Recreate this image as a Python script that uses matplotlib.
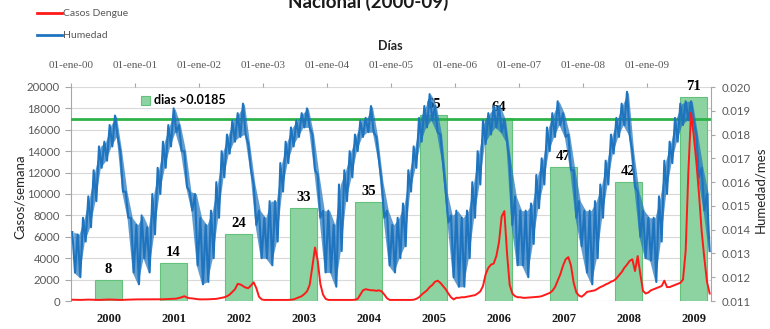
import matplotlib
matplotlib.use('Agg')
import matplotlib.pyplot as plt
import numpy as np
from matplotlib.lines import Line2D

# ---------------- data ----------------
years = ['2000', '2001', '2002', '2003', '2004', '2005', '2006', '2007', '2008', '2009']
dias_count = [8, 14, 24, 33, 35, 65, 64, 47, 42, 71]
bar_heights = [1960, 3580, 6260, 8700, 9250, 17400, 17100, 12500, 11150, 19050]
top_labels = ['01-ene-00', '01-ene-01', '01-ene-02', '01-ene-03', '01-ene-04',
              '01-ene-05', '01-ene-06', '01-ene-07', '01-ene-08', '01-ene-09']
umbral = 0.01865

# humidity: per month (upper, lower) envelope of the daily band
hum_2000 = [0.0139, 0.0122, 0.0138, 0.0120, 0.0145, 0.0135, 0.0154, 0.0141, 0.0165, 0.0152, 0.0175, 0.0166,
            0.0177, 0.0169, 0.0184, 0.0175, 0.0188, 0.0179, 0.0173, 0.0156, 0.0156, 0.0145, 0.0145, 0.0122]
hum_2001 = [0.0142, 0.0117, 0.0146, 0.0128, 0.0141, 0.0122, 0.0155, 0.0138, 0.0166, 0.0155, 0.0177, 0.0166,
            0.0184, 0.0175, 0.0191, 0.0181, 0.0184, 0.0173, 0.0173, 0.0158, 0.0156, 0.0148, 0.0155, 0.0125]
hum_2002 = [0.0145, 0.0117, 0.0142, 0.0118, 0.0148, 0.0128, 0.0160, 0.0145, 0.0173, 0.0162, 0.0180, 0.0172,
            0.0186, 0.0177, 0.0189, 0.0179, 0.0193, 0.0180, 0.0176, 0.0165, 0.0159, 0.0142, 0.0148, 0.0128]
hum_2003 = [0.0145, 0.0128, 0.0152, 0.0125, 0.0152, 0.0135, 0.0168, 0.0156, 0.0177, 0.0168, 0.0183, 0.0175,
            0.0186, 0.0179, 0.0189, 0.0183, 0.0191, 0.0183, 0.0180, 0.0165, 0.0163, 0.0145, 0.0148, 0.0122]
hum_2004 = [0.0148, 0.0122, 0.0142, 0.0116, 0.0159, 0.0131, 0.0165, 0.0152, 0.0173, 0.0162, 0.0180, 0.0173,
            0.0186, 0.0179, 0.0187, 0.0181, 0.0192, 0.0181, 0.0179, 0.0169, 0.0160, 0.0145, 0.0148, 0.0125]
hum_2005 = [0.0142, 0.0122, 0.0145, 0.0128, 0.0151, 0.0133, 0.0165, 0.0156, 0.0175, 0.0166, 0.0187, 0.0177,
            0.0192, 0.0183, 0.0197, 0.0186, 0.0192, 0.0181, 0.0180, 0.0168, 0.0156, 0.0143, 0.0146, 0.0120]
hum_2006 = [0.0148, 0.0116, 0.0145, 0.0116, 0.0148, 0.0128, 0.0160, 0.0145, 0.0173, 0.0159, 0.0186, 0.0176,
            0.0189, 0.0180, 0.0192, 0.0183, 0.0192, 0.0181, 0.0186, 0.0177, 0.0168, 0.0142, 0.0154, 0.0125]
hum_2007 = [0.0148, 0.0125, 0.0148, 0.0120, 0.0151, 0.0134, 0.0163, 0.0149, 0.0170, 0.0159, 0.0183, 0.0173,
            0.0189, 0.0179, 0.0194, 0.0184, 0.0189, 0.0179, 0.0180, 0.0165, 0.0165, 0.0145, 0.0152, 0.0133]
hum_2008 = [0.0148, 0.0122, 0.0148, 0.0117, 0.0152, 0.0128, 0.0159, 0.0145, 0.0169, 0.0159, 0.0180, 0.0172,
            0.0187, 0.0179, 0.0193, 0.0184, 0.0198, 0.0180, 0.0173, 0.0158, 0.0156, 0.0137, 0.0148, 0.0128]
hum_2009 = [0.0145, 0.0127, 0.0145, 0.0118, 0.0154, 0.0135, 0.0169, 0.0155, 0.0177, 0.0168, 0.0187, 0.0177,
            0.0193, 0.0184, 0.0194, 0.0186, 0.0194, 0.0186, 0.0180, 0.0162, 0.0166, 0.0148, 0.0155, 0.0131]

# dengue cases per week, sampled twice a month
red_2000 = [120, 110, 100, 100, 110, 120, 130, 120, 110, 100, 100, 110,
            120, 130, 140, 130, 120, 110, 100, 110, 120, 130, 140, 150]
red_2001 = [150, 150, 140, 140, 150, 150, 160, 160, 150, 150, 160, 170,
            180, 190, 200, 220, 280, 350, 450, 320, 260, 240, 200, 170]
red_2002 = [150, 150, 160, 160, 170, 180, 200, 250, 300, 350, 450, 600,
            850, 1100, 1600, 1550, 1400, 1250, 1200, 1450, 1750, 1200, 400, 150]
red_2003 = [100, 100, 100, 100, 100, 100, 100, 100, 100, 100, 120, 150,
            250, 350, 450, 650, 900, 1500, 3200, 5000, 3800, 1600, 600, 200]
red_2004 = [100, 100, 100, 100, 100, 100, 100, 100, 100, 100, 120, 200,
            600, 1000, 1100, 1050, 1000, 1000, 950, 1000, 900, 600, 250, 100]
red_2005 = [100, 100, 100, 100, 100, 100, 100, 100, 120, 200, 350, 600,
            800, 1000, 1300, 1500, 1800, 1900, 1700, 1400, 1100, 700, 350, 150]
red_2006 = [300, 300, 350, 350, 400, 450, 500, 550, 700, 900, 1400, 2500,
            3100, 3400, 3500, 4200, 5500, 7900, 8400, 4500, 1500, 700, 450, 350]
red_2007 = [350, 300, 300, 320, 350, 350, 380, 400, 450, 550, 650, 750,
            950, 1300, 1900, 2500, 3300, 3900, 4100, 3300, 1700, 800, 500, 400]
red_2008 = [600, 850, 900, 950, 1000, 1150, 1300, 1400, 1550, 1650, 1800, 1900,
            2100, 2400, 2700, 3100, 3400, 3750, 3900, 2800, 4200, 2500, 950, 700]
red_2009 = [800, 1000, 1100, 1200, 1300, 1400, 1900, 1300, 1300, 1400, 1500, 1600,
            1700, 2000, 4700, 12000, 17600, 15500, 13000, 10000, 6500, 4000, 1800, 700]

hum_years = [hum_2000, hum_2001, hum_2002, hum_2003, hum_2004,
             hum_2005, hum_2006, hum_2007, hum_2008, hum_2009]
red_years = [red_2000, red_2001, red_2002, red_2003, red_2004,
             red_2005, red_2006, red_2007, red_2008, red_2009]

# ---------------- style ----------------
SANS = ['Lato', 'DejaVu Sans']
SERIF = ['Liberation Serif', 'DejaVu Serif']
GRAY = '#595959'
BLUE = '#1E74BE'
RED = '#FF1A1A'
GREEN = '#2DB34A'
BAR_FILL = '#8DD3A1'
BAR_EDGE = '#62C27C'

W, H = 770, 329
fig = plt.figure(figsize=(W / 100, H / 100), dpi=100)
L, R, T, B = 71, 711, 87, 301
ax = fig.add_axes([L / W, 1 - B / H, (R - L) / W, (B - T) / H])

# bars (category axis at the bottom)
xpos = np.arange(len(years))
bars = ax.bar(xpos, bar_heights, width=0.415, color=BAR_FILL, edgecolor=BAR_EDGE,
              linewidth=0.8, zorder=2)
for xi, h, n in zip(xpos, bar_heights, dias_count):
    ax.annotate(str(n), (xi, h), xytext=(0, 3), textcoords='offset points',
                ha='center', va='bottom', fontsize=10.5, fontweight='bold',
                family=SERIF, color='black', zorder=3)
ax.set_xlim(-0.577, 9.269)
ax.set_ylim(0, 20000)
ax.set_yticks(np.arange(0, 20001, 2000))
ax.set_xticks(xpos)
ax.set_xticklabels(years, fontsize=9, fontweight='bold', family=SERIF, color='#1a1a1a')
ax.tick_params(axis='x', length=0, pad=9)
ax.tick_params(axis='y', length=4, width=0.8, color='#A6A6A6', pad=4, labelsize=8.2,
               labelcolor=GRAY)
for lab in ax.get_yticklabels():
    lab.set_family(SANS)
ax.yaxis.grid(True, color='#D9D9D9', linewidth=0.8, zorder=0)
ax.set_axisbelow(True)
for s in ['top', 'bottom', 'right']:
    ax.spines[s].set_visible(False)
ax.spines['left'].set_color('#A6A6A6')

ax.legend([bars], ['dias >0.0185'], loc='upper left',
          bbox_to_anchor=((133 - L) / (R - L), 1.0), frameon=False,
          handlelength=0.75, handleheight=0.75, handletextpad=0.35,
          borderaxespad=0.2, prop={'family': SANS, 'weight': 'bold', 'size': 9})

# time axis on top (Días)
axT = ax.twiny()
axT.set_xlim(0, 10)
axT.set_xticks(np.arange(10))
axT.set_xticklabels(top_labels, fontsize=8, family=SERIF, color=GRAY)
axT.tick_params(axis='x', length=3, width=0.8, color='#A6A6A6', pad=9)
for s in axT.spines.values():
    s.set_visible(False)

# humidity on right axis
axH = axT.twinx()
axH.set_ylim(0.011, 0.020)
ticks_h = np.round(np.arange(0.011, 0.02001, 0.001), 3)
axH.set_yticks(ticks_h)
axH.set_yticklabels(['%.3f' % v for v in ticks_h])
axH.tick_params(axis='y', length=3, width=0.8, color='#A6A6A6', pad=5, labelsize=8.2,
                labelcolor=GRAY)
for lab in axH.get_yticklabels():
    lab.set_family(SANS)
for s in ['top', 'bottom', 'left']:
    axH.spines[s].set_visible(False)
axH.spines['right'].set_color('#A6A6A6')

axH.axhline(umbral, color=GREEN, linewidth=2.0, zorder=1)
hum_all = np.concatenate(hum_years)
hum_hi = hum_all[0::2]
hum_lo = hum_all[1::2]
t_m = np.concatenate([yi + (np.arange(12) + 0.5) / 12 for yi in range(len(hum_years))])
t_h = np.concatenate([yi + (np.arange(24) + 0.5) / 24 for yi in range(len(hum_years))])
axH.fill_between(t_m, hum_lo, hum_hi, color=BLUE, alpha=0.7, linewidth=0, zorder=2)
axH.plot(t_h, hum_all, color=BLUE, linewidth=1.5, zorder=2)

# dengue cases (left scale) on top of everything
axC = axT.twinx()
axC.set_ylim(0, 20000)
axC.set_yticks([])
for s in axC.spines.values():
    s.set_visible(False)
t_r = np.concatenate([yi + (np.arange(24) + 0.5) / 24 for yi in range(len(red_years))])
red_vals = np.concatenate(red_years)
axC.plot(t_r, red_vals, color=RED, linewidth=1.4, zorder=3)

# texts
fig.text(368.5 / W, 1 - 8 / H, 'Nacional (2000-09)', ha='center', va='baseline',
         fontsize=13.5, fontweight='bold', family=SANS, color='#1a1a1a')
fig.text(390 / W, 1 - 46 / H, 'Días', ha='center', va='center', fontsize=9,
         fontweight='bold', family=SANS, color='#262626')
fig.text(20 / W, 1 - 197 / H, 'Casos/semana', rotation=90, ha='center', va='center',
         fontsize=9.5, family=SANS, color='#262626')
fig.text(760 / W, 1 - 190 / H, 'Humedad/mes', rotation=90, ha='center', va='center',
         fontsize=9.5, family=SANS, color='#262626')

handles = [Line2D([], [], color=RED, linewidth=2), Line2D([], [], color=BLUE, linewidth=2)]
fig.legend(handles, ['Casos Dengue', 'Humedad'], loc='upper left',
           bbox_to_anchor=(33 / W, 1 - 5 / H), frameon=False,
           handlelength=2.4, handletextpad=0.1, labelspacing=1.2, borderaxespad=0,
           prop={'family': SANS, 'size': 7.5}, labelcolor=GRAY)

fig.savefig('out.png', dpi=100)
